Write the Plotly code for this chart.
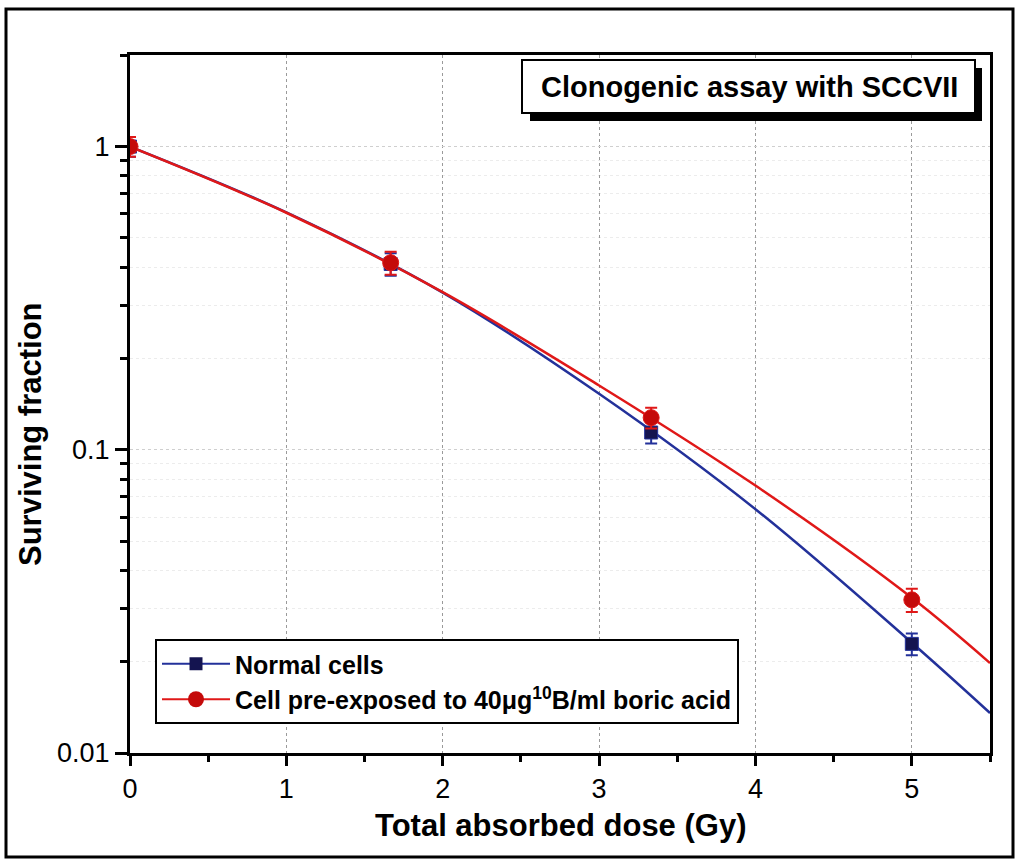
import plotly.graph_objects as go

# Measured survival (mean ± error) at each dose
dose = [0, 1.667, 3.333, 5]
normal_sf = [1.0, 0.41, 0.114, 0.0229]
normal_err = [0.075, 0.035, 0.0092, 0.0019]
boric_sf = [1.0, 0.414, 0.1276, 0.032]
boric_err = [0.075, 0.036, 0.0100, 0.0028]

# Fitted survival curves, sampled along the dose axis
fit_dose = [0, 1, 2, 3, 4, 5, 5.5]
normal_fit = [1.0, 0.607, 0.330, 0.153, 0.0637, 0.0231, 0.01355]
boric_fit = [1.0, 0.605, 0.331, 0.163, 0.0762, 0.0325, 0.0198]

x_ticks = [0, 1, 2, 3, 4, 5]
y_ticks = [0.01, 0.1, 1]
y_tick_text = ["0.01", "0.1", "1"]

BLUE_LINE = "#23319a"
BLUE_MARK = "#141450"
RED_LINE = "#e01818"
RED_MARK = "#c40a0a"
FONT = "Arial, Liberation Sans, sans-serif"

W, H = 1017, 860
ML, MR, MT, MB = 130, 27, 55, 107
PW, PH = W - ML - MR, H - MT - MB


def px(x):
    return (x - ML) / PW


def py(y):
    return (H - MB - y) / PH


fig = go.Figure()

# fitted curves
fig.add_trace(go.Scatter(x=fit_dose, y=normal_fit, mode="lines", line=dict(color=BLUE_LINE, width=2.5, shape="spline"),
                         showlegend=False, hoverinfo="skip"))
fig.add_trace(go.Scatter(x=fit_dose, y=boric_fit, mode="lines", line=dict(color=RED_LINE, width=2.5, shape="spline"),
                         showlegend=False, hoverinfo="skip"))

# measured points
fig.add_trace(go.Scatter(
    x=dose, y=normal_sf, mode="markers", showlegend=False,
    marker=dict(symbol="square", size=13, color=BLUE_MARK, line=dict(color=BLUE_LINE, width=1)),
    error_y=dict(type="data", array=normal_err, color=BLUE_LINE, thickness=2, width=6),
))
fig.add_trace(go.Scatter(
    x=dose, y=boric_sf, mode="markers", showlegend=False,
    marker=dict(symbol="circle", size=16, color=RED_MARK, line=dict(color=RED_LINE, width=1)),
    error_y=dict(type="data", array=boric_err, color=RED_LINE, thickness=2, width=6),
))

# legend entries drawn as line + marker
fig.add_trace(go.Scatter(x=[None], y=[None], mode="lines+markers", name="<b>Normal cells</b>",
                         line=dict(color=BLUE_LINE, width=2),
                         marker=dict(symbol="square", size=13, color=BLUE_MARK)))
fig.add_trace(go.Scatter(x=[None], y=[None], mode="lines+markers",
                         name="<b>Cell pre-exposed to 40\u03bcg<sup>10</sup>B/ml boric acid</b>",
                         line=dict(color=RED_LINE, width=2),
                         marker=dict(symbol="circle", size=16, color=RED_MARK)))

fig.update_xaxes(
    range=[0, 5.5], tickvals=x_ticks, ticks="outside", ticklen=10, tickwidth=3, tickcolor="black",
    showline=True, linewidth=3, linecolor="black", mirror=True,
    showgrid=True, gridcolor="#9a9a9a", gridwidth=1, griddash="dot",
    minor=dict(dtick=0.5, ticks="outside", ticklen=6, tickwidth=3, tickcolor="black", showgrid=False),
    tickfont=dict(family=FONT, size=27, color="black"), zeroline=False,
)
fig.update_yaxes(
    type="log", range=[-2, 0.302], tickvals=y_ticks, ticktext=y_tick_text,
    ticks="outside", ticklen=12, tickwidth=3, tickcolor="black",
    showline=True, linewidth=3, linecolor="black", mirror=True,
    showgrid=True, gridcolor="#cfcfcf", gridwidth=1, griddash="dot",
    minor=dict(tickvals=[0.02, 0.03, 0.04, 0.05, 0.06, 0.07, 0.08, 0.09,
                         0.2, 0.3, 0.4, 0.5, 0.6, 0.7, 0.8, 0.9, 2],
               ticks="outside", ticklen=7, tickwidth=3, tickcolor="black",
               showgrid=True, gridcolor="#ececec", gridwidth=1, griddash="dot"),
    tickfont=dict(family=FONT, size=27, color="black"), zeroline=False,
)

shapes = [
    # outer frame
    dict(type="rect", xref="paper", yref="paper", x0=px(6), x1=px(1013), y0=py(857), y1=py(9),
         line=dict(color="black", width=3), fillcolor="rgba(0,0,0,0)", layer="above"),
    # title box shadow and box
    dict(type="rect", xref="paper", yref="paper", x0=px(530), x1=px(982), y0=py(121), y1=py(68),
         line=dict(color="black", width=0), fillcolor="black", layer="above"),
    dict(type="rect", xref="paper", yref="paper", x0=px(522), x1=px(975), y0=py(113), y1=py(60),
         line=dict(color="black", width=2), fillcolor="white", layer="above"),
]

annotations = [
    dict(text="<b>Clonogenic assay with SCCVII</b>", xref="paper", yref="paper",
         x=px(749), y=py(87), xanchor="center", yanchor="middle", showarrow=False,
         font=dict(family=FONT, size=29, color="black")),
    dict(text="<b>Total absorbed dose (Gy)</b>", xref="paper", yref="paper",
         x=px(560), y=py(825), xanchor="center", yanchor="middle", showarrow=False,
         font=dict(family=FONT, size=31, color="black")),
    dict(text="<b>Surviving fraction</b>", xref="paper", yref="paper",
         x=px(30), y=py(434), xanchor="center", yanchor="middle", showarrow=False, textangle=-90,
         font=dict(family=FONT, size=31, color="black")),
]

fig.update_layout(
    width=W, height=H, margin=dict(l=ML, r=MR, t=MT, b=MB),
    paper_bgcolor="white", plot_bgcolor="white",
    shapes=shapes, annotations=annotations,
    legend=dict(x=px(155), y=py(639), xanchor="left", yanchor="top",
                bgcolor="white", bordercolor="black", borderwidth=2,
                font=dict(family=FONT, size=25, color="black"),
                itemwidth=68, tracegroupgap=2, traceorder="normal"),
)

fig.write_html("out.html")
